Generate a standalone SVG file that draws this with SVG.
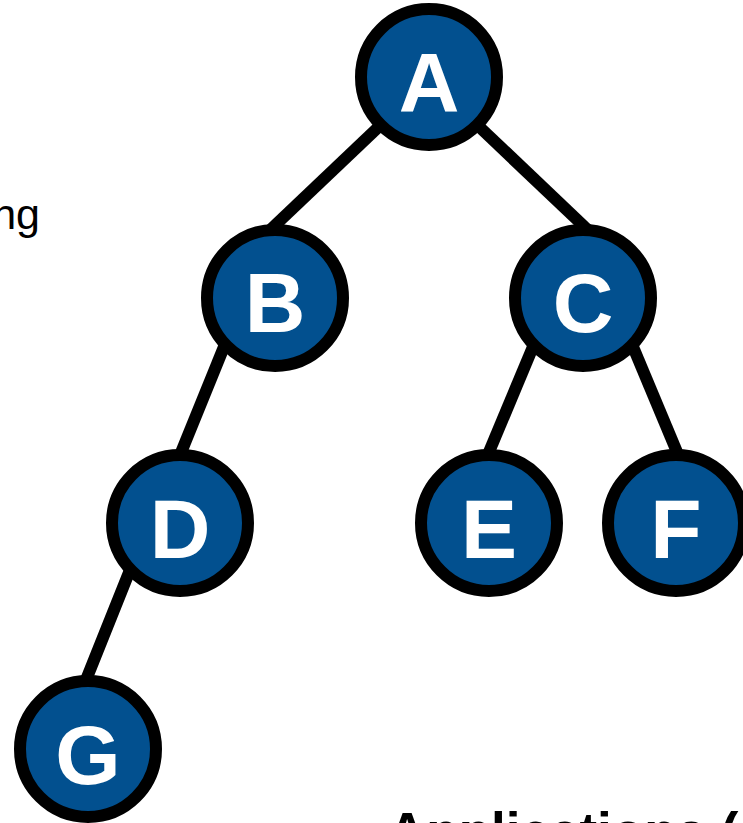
<svg xmlns="http://www.w3.org/2000/svg" width="743" height="823" viewBox="0 0 743 823">
  <style>
    .edge { stroke: #000; stroke-width: 12; stroke-linecap: butt; fill: none; }
    .node circle { fill: #02508F; stroke: #000; stroke-width: 12; }
    .node text { font-family: "Liberation Sans", Arial, sans-serif; font-weight: bold; font-size: 84px; fill: #fff; text-anchor: middle; }
    .caption { font-family: "Liberation Sans", Arial, sans-serif; fill: #000; }
  </style>
  <rect width="743" height="823" fill="#fff"/>

  <!-- connectors between parent and child nodes -->
  <g id="edges">
    <line class="edge" x1="388" y1="118" x2="268" y2="232"/>
    <line class="edge" x1="470" y1="118" x2="590" y2="232"/>
    <line class="edge" x1="230" y1="332" x2="176" y2="465"/>
    <line class="edge" x1="540" y1="330" x2="484" y2="464"/>
    <line class="edge" x1="626" y1="330" x2="682" y2="464"/>
    <line class="edge" x1="136" y1="555" x2="82" y2="690"/>
  </g>

  <g id="node-A" class="node"><circle cx="429" cy="77" r="68"/><text x="429" y="112">A</text></g>
  <g id="node-B" class="node"><circle cx="275" cy="298" r="68"/><text x="275" y="332">B</text></g>
  <g id="node-C" class="node"><circle cx="583" cy="298" r="68"/><text x="583" y="332">C</text></g>
  <g id="node-D" class="node"><circle cx="180" cy="523" r="68"/><text x="180" y="558">D</text></g>
  <g id="node-E" class="node"><circle cx="489" cy="523" r="68"/><text x="489" y="558">E</text></g>
  <g id="node-F" class="node"><circle cx="676" cy="523" r="68"/><text x="676" y="558">F</text></g>
  <g id="node-G" class="node"><circle cx="88" cy="749" r="68"/><text x="88" y="784">G</text></g>

  <!-- surrounding slide text -->
  <text class="caption" x="40" y="229" font-size="43" text-anchor="end">ng</text>
  <text class="caption" x="388" y="850" font-size="53" font-weight="bold">Applications (ar</text>
</svg>
